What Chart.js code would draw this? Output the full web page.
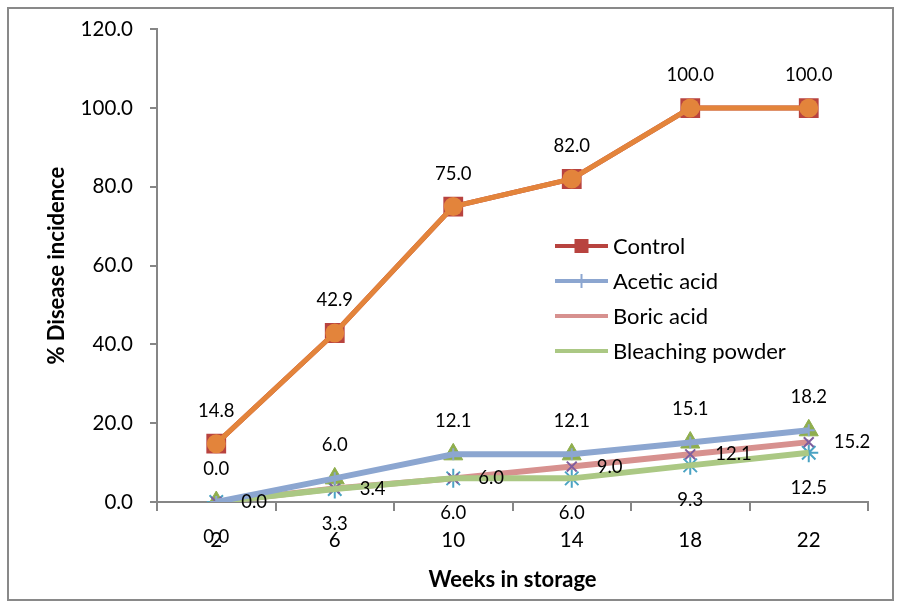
<!DOCTYPE html>
<html>
<head>
<meta charset="utf-8">
<script src="https://cdn.jsdelivr.net/npm/chart.js@4.4.1/dist/chart.umd.min.js"></script>
<style>
  html, body { margin: 0; padding: 0; background: #fff; }
</style>
</head>
<body>
<canvas id="chart" width="899" height="607"></canvas>
<script>
const weeks = ["2", "6", "10", "14", "18", "22"];
const control = [14.8, 42.9, 75.0, 82.0, 100.0, 100.0];
const aceticAcid = [0.0, 6.0, 12.1, 12.1, 15.1, 18.2];
const boricAcid = [0.0, 3.4, 6.0, 9.0, 12.1, 15.2];
const bleachingPowder = [0.0, 3.3, 6.0, 6.0, 9.3, 12.5];
const yMin = 0;
const yMax = 120;
const yStep = 20;

const fontFamily = "Lato, 'Liberation Sans', sans-serif";
const axisGray = "#868686";

// data labels next to each point, placed like Excel does (above / right / below)
const valueLabels = {
  id: "valueLabels",
  afterDatasetsDraw(chart) {
    const ctx = chart.ctx;
    ctx.save();
    ctx.font = `18.5px ${fontFamily}`;
    ctx.fillStyle = "#000";
    ctx.textBaseline = "middle";
    chart.data.datasets.forEach((ds, i) => {
      if (!ds.labelPos) return;
      const meta = chart.getDatasetMeta(i);
      meta.data.forEach((pt, j) => {
        const text = ds.data[j].toFixed(1);
        let x = pt.x;
        let y = pt.y;
        if (ds.labelPos === "above") {
          ctx.textAlign = "center";
          y -= 33;
        } else if (ds.labelPos === "below") {
          ctx.textAlign = "center";
          y += 35;
        } else {
          ctx.textAlign = "left";
          x += 25;
        }
        ctx.fillText(text, x, y);
      });
    });
    ctx.restore();
  },
};

// legend sits inside the plot area in the original
const insideLegend = {
  id: "insideLegend",
  afterDraw(chart) {
    const ctx = chart.ctx;
    const items = chart.data.datasets.filter((ds) => ds.legendLabel);
    const x0 = 555;
    const x1 = 608;
    let y = 246;
    ctx.save();
    ctx.font = `22px ${fontFamily}`;
    ctx.textBaseline = "middle";
    ctx.textAlign = "left";
    items.forEach((ds) => {
      ctx.strokeStyle = ds.borderColor;
      ctx.lineWidth = 4;
      ctx.beginPath();
      ctx.moveTo(x0, y);
      ctx.lineTo(x1, y);
      ctx.stroke();
      const cx = (x0 + x1) / 2;
      if (ds.legendMarker === "rect") {
        ctx.fillStyle = ds.borderColor;
        ctx.fillRect(cx - 7, y - 7, 14, 14);
      } else if (ds.legendMarker === "cross") {
        ctx.lineWidth = 2;
        ctx.beginPath();
        ctx.moveTo(cx, y - 7);
        ctx.lineTo(cx, y + 7);
        ctx.stroke();
      }
      ctx.fillStyle = "#000";
      ctx.fillText(ds.legendLabel, x1 + 5, y + 1);
      y += 35;
    });
    ctx.restore();
  },
};

const frame = {
  id: "frame",
  beforeDraw(chart) {
    const ctx = chart.ctx;
    ctx.save();
    ctx.fillStyle = "#fff";
    ctx.fillRect(0, 0, chart.width, chart.height);
    ctx.restore();
  },
  afterDraw(chart) {
    const ctx = chart.ctx;
    ctx.save();
    ctx.strokeStyle = "#898989";
    ctx.lineWidth = 2;
    ctx.strokeRect(8, 8, 885, 592);
    ctx.restore();
  },
};

new Chart(document.getElementById("chart"), {
  type: "line",
  data: {
    labels: weeks,
    datasets: [
      {
        label: "Control",
        legendLabel: "Control",
        legendMarker: "rect",
        data: control,
        borderColor: "#B8433F",
        backgroundColor: "#B8433F",
        borderWidth: 5,
        pointStyle: "rect",
        pointRadius: 14,
        pointBorderWidth: 0,
        order: 7,
      },
      {
        label: "Control overlay",
        data: control,
        labelPos: "above",
        borderColor: "#E3843B",
        backgroundColor: "#E3843B",
        borderWidth: 5,
        pointStyle: "circle",
        pointRadius: 9.5,
        pointBorderWidth: 0,
        order: 6,
      },
      {
        label: "Acetic acid",
        legendLabel: "Acetic acid",
        legendMarker: "cross",
        data: aceticAcid,
        labelPos: "above",
        borderColor: "#8CA6D0",
        backgroundColor: "#8CA6D0",
        borderWidth: 6,
        pointStyle: "cross",
        pointRadius: 6,
        pointBorderWidth: 2,
        order: 0,
      },
      {
        label: "Acetic acid markers",
        data: aceticAcid,
        showLine: false,
        borderColor: "#8FAE4D",
        backgroundColor: "#8FAE4D",
        pointStyle: "triangle",
        pointRadius: 11,
        pointBorderWidth: 1,
        order: 4,
      },
      {
        label: "Boric acid",
        legendLabel: "Boric acid",
        data: boricAcid,
        labelPos: "right",
        borderColor: "#D7918F",
        backgroundColor: "#D7918F",
        borderWidth: 6,
        pointRadius: 0,
        order: 3,
      },
      {
        label: "Bleaching powder",
        legendLabel: "Bleaching powder",
        data: bleachingPowder,
        labelPos: "below",
        borderColor: "#ABC884",
        backgroundColor: "#ABC884",
        borderWidth: 6,
        pointRadius: 0,
        order: 1,
      },
      {
        label: "Boric acid markers",
        data: boricAcid,
        showLine: false,
        borderColor: "#7F5E9E",
        backgroundColor: "#7F5E9E",
        pointStyle: "crossRot",
        pointRadius: 7,
        pointBorderWidth: 2,
        order: 2,
      },
      {
        label: "Bleaching powder markers",
        data: bleachingPowder,
        showLine: false,
        borderColor: "#4BA3C3",
        backgroundColor: "#4BA3C3",
        pointStyle: "star",
        pointRadius: 9.5,
        pointBorderWidth: 2,
        order: 5,
      },
    ],
  },
  options: {
    responsive: false,
    animation: false,
    devicePixelRatio: 1,
    layout: { padding: { top: 27, right: 31, left: 0, bottom: 0 } },
    elements: { line: { tension: 0 } },
    plugins: {
      legend: { display: false },
      tooltip: { enabled: false },
    },
    scales: {
      x: {
        offset: true,
        grid: {
          offset: true,
          drawOnChartArea: false,
          tickLength: 9,
          color: axisGray,
          lineWidth: 2,
        },
        border: { color: axisGray, width: 2 },
        ticks: {
          color: "#000",
          font: { family: fontFamily, size: 20.5 },
          padding: 17,
          maxRotation: 0,
        },
        title: {
          display: true,
          text: "Weeks in storage",
          color: "#000",
          font: { family: fontFamily, size: 22, weight: "bold" },
          padding: { top: 0, bottom: 14 },
        },
        afterFit(scale) {
          scale.height = 105;
        },
      },
      y: {
        min: yMin,
        max: yMax,
        grid: {
          drawOnChartArea: false,
          tickLength: 7,
          color: axisGray,
          lineWidth: 2,
        },
        border: { color: axisGray, width: 2 },
        ticks: {
          stepSize: yStep,
          color: "#000",
          font: { family: fontFamily, size: 20.5 },
          padding: 17,
          callback: (v) => v.toFixed(1),
        },
        title: {
          display: true,
          text: "% Disease incidence",
          color: "#000",
          font: { family: fontFamily, size: 22, weight: "bold" },
          padding: { top: 44, bottom: 0 },
        },
        afterFit(scale) {
          scale.width = 157;
        },
      },
    },
  },
  plugins: [frame, valueLabels, insideLegend],
});
</script>
</body>
</html>
